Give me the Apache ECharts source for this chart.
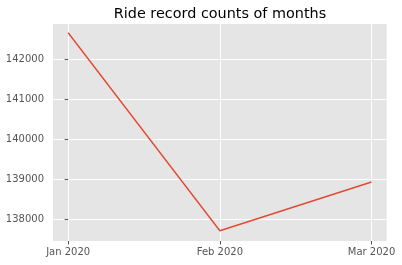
<!DOCTYPE html>
<html><head><meta charset="utf-8">
<script src="https://cdn.jsdelivr.net/npm/echarts@6/dist/echarts.min.js"></script>
<style>html,body{margin:0;padding:0;background:#fff}#c{width:402px;height:265px}</style>
</head><body><div id="c"></div>
<script>
const months = ['Jan 2020', 'Feb 2020', 'Mar 2020'];
const counts = [142665, 137715, 138932];
const yTicks = [138000, 139000, 140000, 141000, 142000];
const title = 'Ride record counts of months';

const xIdx = months.map((m, i) => i);
const chart = echarts.init(document.getElementById('c'), null, {renderer: 'canvas'});
const txt = '#555555';
const font = 'DejaVu Sans';
chart.setOption({
  animation: false,
  backgroundColor: '#ffffff',
  title: {
    text: title, left: 220, top: 7.5, textAlign: 'center', padding: 0,
    textStyle: {fontFamily: font, fontSize: 14.4, fontWeight: 'normal', color: '#000'}
  },
  grid: {left: 53, right: 15.3, top: 24, bottom: 24, show: true, backgroundColor: '#E5E5E5', borderWidth: 0},
  xAxis: {
    type: 'value', min: -0.1, max: 2.1,
    axisLine: {show: false},
    axisTick: {show: true, customValues: xIdx, length: 3.5, lineStyle: {color: txt, width: 1}},
    axisLabel: {customValues: xIdx, formatter: v => months[Math.round(v)], color: txt, fontFamily: font, fontSize: 10, margin: 6},
    splitLine: {show: true, customValues: xIdx, lineStyle: {color: '#ffffff', width: 1}}
  },
  yAxis: {
    type: 'value', min: 137458, max: 142883,
    axisLine: {show: false},
    axisTick: {show: true, customValues: yTicks, length: 3.5, lineStyle: {color: txt, width: 1}},
    axisLabel: {customValues: yTicks, formatter: v => String(v), color: txt, fontFamily: font, fontSize: 10, margin: 9},
    splitLine: {show: true, customValues: yTicks, lineStyle: {color: '#ffffff', width: 1}}
  },
  series: [{
    type: 'line', data: xIdx.map(i => [i, counts[i]]), showSymbol: false,
    lineStyle: {color: '#E24A33', width: 1.4}, itemStyle: {color: '#E24A33'}
  }]
});
</script></body></html>
